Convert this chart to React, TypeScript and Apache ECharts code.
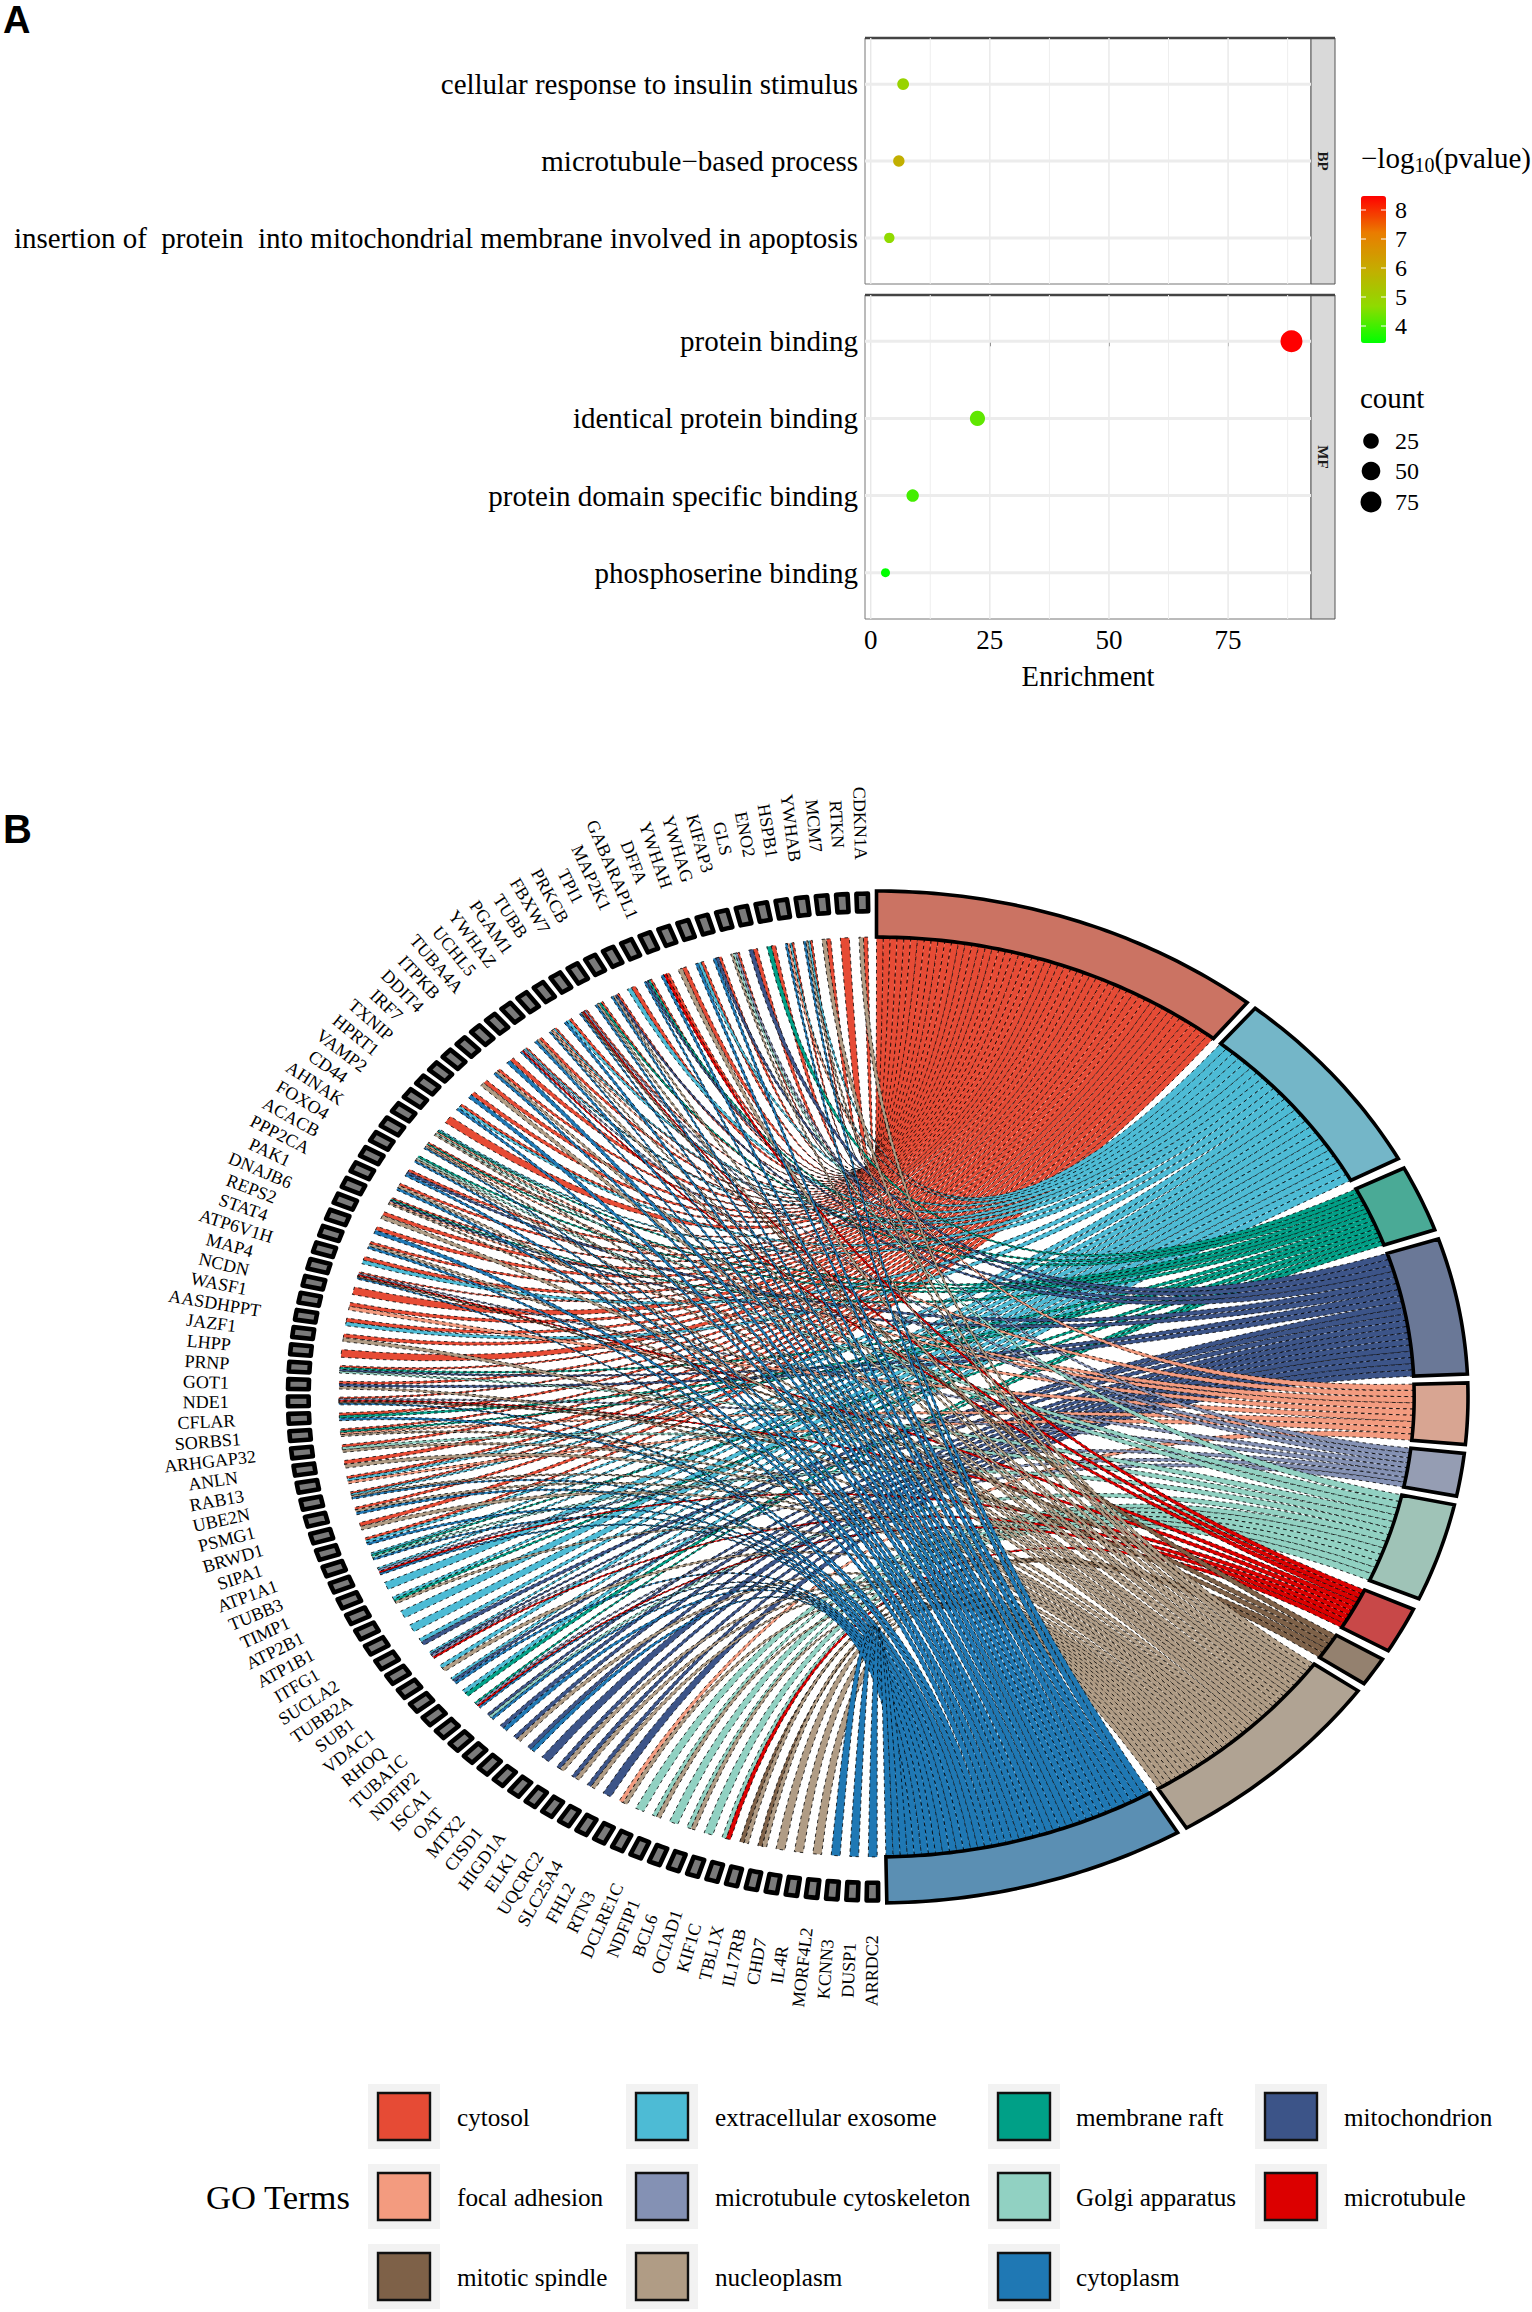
import React, { useEffect, useRef } from "react";
import * as echarts from "echarts";

const SERIF = "Liberation Serif";

// Panel A
const bpCategories = ["cellular response to insulin stimulus", "microtubule\u2212based process", "insertion of  protein  into mitochondrial membrane involved in apoptosis"];
const bpEnrichment = [6.8, 5.9, 3.9];
const bpLogP = [4.9, 5.9, 4.7];
const mfCategories = ["protein binding", "identical protein binding", "protein domain specific binding", "phosphoserine binding"];
const mfEnrichment = [88.3, 22.4, 8.8, 3.1];
const mfLogP = [8.48, 4.25, 4.0, 3.41];
const xTickValues = [0, 25, 50, 75];
const xMinorValues = [12.5, 37.5, 62.5, 87.5];
const colorTicks = [8, 7, 6, 5, 4];
const sizeTicks = [25, 50, 75];

// Panel B
const termNames = ["cytosol", "extracellular exosome", "membrane raft", "mitochondrion", "focal adhesion", "microtubule cytoskeleton", "Golgi apparatus", "microtubule", "mitotic spindle", "nucleoplasm", "cytoplasm"];
const termCodes = ["S", "E", "R", "M", "F", "K", "G", "T", "P", "N", "C"];
const termColors = ["#E64B35", "#4DBBD5", "#00A087", "#3C5488", "#F39B7F", "#8491B4", "#91D1C2", "#DC0000", "#7E6148", "#B09C85", "#1F78B4"];
const termBandColors = ["#CB7363", "#74B6C8", "#4AAA96", "#6A7897", "#D8A592", "#959DB3", "#9FC3B7", "#C84848", "#94816F", "#B0A393", "#5B8FB3"];
const termStart = [0, 39.8, 63.1, 71.8, 88.4, 96.4, 102.3, 114.8, 121.2, 125.5, 149.4];
const termEnd = [38.8, 61.9, 70.7, 87.4, 95.4, 101.3, 113.5, 120.1, 124.5, 148.4, 179];
const legendOrder = [[0, 1, 2, 3], [4, 5, 6, 7], [8, 9, 10]];

// genes listed from the bottom of the circle upwards
const geneNames = ["ARRDC2", "DUSP1", "KCNN3", "MORF4L2", "IL4R", "CHD7", "IL17RB", "TBL1X", "KIF1C", "OCIAD1", "BCL6", "NDFIP1", "DCLRE1C", "RTN3", "FHL2", "SLC25A4", "UQCRC2", "ELK1", "HIGD1A", "CISD1", "MTX2", "OAT", "ISCA1", "NDFIP2", "TUBA1C", "RHOQ", "VDAC1", "SUB1", "TUBB2A", "SUCLA2", "ITFG1", "ATP1B1", "ATP2B1", "TIMP1", "TUBB3", "ATP1A1", "SIPA1", "BRWD1", "PSMG1", "UBE2N", "RAB13", "ANLN", "ARHGAP32", "SORBS1", "CFLAR", "NDE1", "GOT1", "PRNP", "LHPP", "JAZF1", "AASDHPPT", "WASF1", "NCDN", "MAP4", "ATP6V1H", "STAT4", "REPS2", "DNAJB6", "PAK1", "PPP2CA", "ACACB", "FOXO4", "AHNAK", "CD44", "VAMP2", "HPRT1", "TXNIP", "IRF7", "DDIT4", "ITPKB", "TUBA4A", "UCHL5", "YWHAZ", "PGAM1", "TUBB", "FBXW7", "PRKCB", "TPI1", "MAP2K1", "GABARAPL1", "DFFA", "YWHAH", "YWHAG", "KIFAP3", "GLS", "ENO2", "HSPB1", "YWHAB", "MCM7", "RTKN", "CDKN1A"];
const geneTerms = ["C", "C", "C", "N", "N", "N", "PN", "PN", "GT", "G", "GN", "G", "GN", "G", "FN", "M", "MN", "MN", "MN", "M", "MC", "MN", "MC", "MGC", "RKTC", "ER", "EMC", "EN", "EMKT", "EM", "E", "E", "ERN", "E", "EKTC", "ERGC", "SEC", "SN", "SNC", "SENC", "SEF", "SN", "SGN", "SRFN", "SRC", "SKTPC", "SMN", "SRMG", "S", "SN", "SE", "SF", "S", "SKTPC", "SE", "SNC", "SC", "SN", "SFRMN", "SNC", "SMC", "RGNC", "SRFNC", "ERFGN", "S", "SEC", "SC", "SN", "SNC", "SC", "SEKTC", "SNC", "SFENC", "SEC", "STKPC", "SRNC", "SMNC", "SE", "SRMC", "STC", "SN", "SEC", "SMC", "SKGN", "SM", "SR", "SEFC", "SENC", "SN", "S", "SN"];

// geometry of the chord circle inside the page
const CX = 876.5, CY = 1397, RX = 591.5, RY = 506;
const R_INNER = 0.909, R_GENE_IN = 0.96, R_GENE_OUT = 0.995, R_LABEL = 1.134;
const GENE_FIRST = 180.4, GENE_STEP = 1.98, GENE_RIBBON = 0.95, GENE_TILE = 1.12;

const rad = (d: number) => (d * Math.PI) / 180;
const unit = (deg: number, r: number) => [r * Math.sin(rad(deg)), r * Math.cos(rad(deg))];

type Link = { term: number; g0: number; g1: number; t0: number; t1: number };

function buildLinks(): Link[] {
  const perTerm: number[][] = termNames.map(() => []);
  const slots: Record<string, [number, number]> = {};
  geneTerms.forEach((codes, g) => {
    const centre = GENE_FIRST + g * GENE_STEP;
    const n = codes.length;
    const w = GENE_RIBBON / n;
    const ordered = codes.split("").map((c) => termCodes.indexOf(c)).sort((a, b) => a - b);
    ordered.forEach((t, j) => {
      const hi = centre + GENE_RIBBON / 2 - j * w;
      slots[g + ":" + t] = [hi - w, hi];
      perTerm[t].push(g);
    });
  });
  const links: Link[] = [];
  perTerm.forEach((genes, t) => {
    const sorted = [...genes].sort((a, b) => b - a);
    const w = (termEnd[t] - termStart[t]) / sorted.length;
    sorted.forEach((g, k) => {
      const s = slots[g + ":" + t];
      links.push({ term: t, g0: s[0], g1: s[1], t0: termStart[t] + k * w, t1: termStart[t] + (k + 1) * w });
    });
  });
  return links;
}
const links = buildLinks();

const sizeOf = (count: number) => 9 + 13 * Math.sqrt(Math.max(0, count - 3) / 85);

function curve(a: number[], b: number[], steps: number) {
  const out: number[][] = [];
  for (let i = 0; i <= steps; i++) {
    const t = i / steps;
    const p = (1 - t) * (1 - t), q = t * t;
    out.push([p * a[0] + q * b[0], p * a[1] + q * b[1]]);
  }
  return out;
}
function arc(a0: number, a1: number, r: number) {
  const out: number[][] = [];
  const n = Math.max(2, Math.ceil(Math.abs(a1 - a0) / 0.7));
  for (let i = 0; i <= n; i++) out.push(unit(a0 + ((a1 - a0) * i) / n, r));
  return out;
}

function buildOption() {
  const ribbonRender = (_p: any, api: any) => {
    const l = links[_p.dataIndex];
    const e1 = curve(unit(l.t1, R_INNER), unit(l.g0, R_INNER), 26);
    const e2 = curve(unit(l.t0, R_INNER), unit(l.g1, R_INNER), 26).reverse();
    return {
      type: "polygon",
      shape: { points: [...e1, ...e2].map((p) => api.coord(p)) },
      style: { fill: termColors[l.term], stroke: "#000", lineWidth: 0.8, lineDash: [3.5, 3.5] },
    };
  };
  const bandRender = (_p: any, api: any) => {
    const t = _p.dataIndex;
    const pts = [...arc(termStart[t], termEnd[t], 1), ...arc(termEnd[t], termStart[t], R_INNER)];
    return {
      type: "polygon",
      shape: { points: pts.map((p) => api.coord(p)) },
      style: { fill: termBandColors[t], stroke: "#000", lineWidth: 3.6, lineJoin: "miter" },
    };
  };
  const tileRender = (_p: any, api: any) => {
    const c = GENE_FIRST + _p.dataIndex * GENE_STEP;
    const pts = [...arc(c - GENE_TILE / 2, c + GENE_TILE / 2, R_GENE_OUT), ...arc(c + GENE_TILE / 2, c - GENE_TILE / 2, R_GENE_IN)];
    return {
      type: "polygon",
      shape: { points: pts.map((p) => api.coord(p)) },
      style: { fill: "#7a7a7a", stroke: "#000", lineWidth: 4.6, lineJoin: "round" },
    };
  };
  const labelRender = (_p: any, api: any) => {
    const c = GENE_FIRST + _p.dataIndex * GENE_STEP;
    const [x, y] = api.coord(unit(c, R_LABEL));
    const theta = 360 - c;
    return {
      type: "text",
      x,
      y,
      rotation: -rad(90 - theta),
      style: { text: geneNames[_p.dataIndex], fill: "#000", fontFamily: SERIF, fontSize: 18, align: "center", verticalAlign: "middle", textAlign: "center", textVerticalAlign: "middle" },
    };
  };

  const panelLines = (idx: number, n: number) => {
    const maxY = n - 0.4;
    const vr = (color: string, w: number) => (_p: any, api: any) => {
      const v = api.value(0);
      const a = api.coord([v, -0.6]);
      const b = api.coord([v, maxY]);
      return { type: "line", shape: { x1: a[0], y1: a[1], x2: b[0], y2: b[1] }, style: { stroke: color, lineWidth: w } };
    };
    const hr = (_p: any, api: any) => {
      const v = api.value(0);
      const a = api.coord([-1.2, v]);
      const b = api.coord([92.4, v]);
      return { type: "line", shape: { x1: a[0], y1: a[1], x2: b[0], y2: b[1] }, style: { stroke: "#ececec", lineWidth: 3 } };
    };
    return [
      { type: "custom", xAxisIndex: idx, yAxisIndex: idx, z: 1, silent: true, renderItem: vr("#e8e8e8", 1.4), data: xTickValues.map((v) => [v]) },
      { type: "custom", xAxisIndex: idx, yAxisIndex: idx, z: 1, silent: true, renderItem: vr("#eeeeee", 1), data: xMinorValues.map((v) => [v]) },
      { type: "custom", xAxisIndex: idx, yAxisIndex: idx, z: 1, silent: true, renderItem: hr, data: Array.from({ length: n }, (_, i) => [i]) },
    ];
  };

  const yAxis = (idx: number, cats: string[]) => ({
    type: "value", gridIndex: idx, min: -0.6, max: cats.length - 0.4, inverse: true, splitLine: { show: false },
    axisLine: { show: false },
    axisTick: { show: true, length: 5, customValues: cats.map((_, i) => i), lineStyle: { color: "#333", width: 1 } },
    axisLabel: { show: true, customValues: cats.map((_, i) => i), formatter: (v: number) => cats[v] ?? "", fontFamily: SERIF, fontSize: 29, color: "#000", margin: 7 },
  });

  const pointData = (en: number[], lp: number[]) => en.map((x, i) => [x, i, Math.round(x), lp[i]]);

  const graphic: any[] = [];
  const txt = (text: string, x: number, y: number, fontSize: number, extra: any = {}) => ({
    type: "text", x, y, style: { text, fill: "#000", fontFamily: SERIF, fontSize, verticalAlign: "middle", textVerticalAlign: "middle", ...extra },
  });
  graphic.push(txt("A", 3, 20, 38, { fontFamily: "Liberation Sans", fontWeight: "bold" }));
  graphic.push(txt("B", 3, 829, 40, { fontFamily: "Liberation Sans", fontWeight: "bold" }));
  [[38, 246, "BP"], [295, 324, "MF"]].forEach(([top, h, lab]: any) => {
    graphic.push({ type: "rect", shape: { x: 1311, y: top, width: 24, height: h }, style: { fill: "#d9d9d9", stroke: "#555", lineWidth: 1 } });
    graphic.push({ type: "line", shape: { x1: 865, y1: top, x2: 1335, y2: top }, style: { stroke: "#444", lineWidth: 2.4 } });
    graphic.push({ type: "text", x: 1323, y: top + h / 2, rotation: -Math.PI / 2, style: { text: lab, fill: "#1a1a1a", fontFamily: SERIF, fontWeight: "bold", fontSize: 15, align: "center", verticalAlign: "middle", textAlign: "center", textVerticalAlign: "middle" } });
  });
  graphic.push({
    type: "text", x: 1361, y: 158,
    style: {
      text: "{a|\u2212log}{b|10}{a|(pvalue)}", fill: "#000", verticalAlign: "middle", textVerticalAlign: "middle",
      rich: { a: { fontFamily: SERIF, fontSize: 29, fill: "#000" }, b: { fontFamily: SERIF, fontSize: 20, fill: "#000", padding: [14, 0, 0, 0] } },
    },
  });
  const barY = (v: number) => 210 + (8 - v) * 29;
  colorTicks.forEach((v) => {
    graphic.push({ type: "line", z: 100, shape: { x1: 1361, y1: barY(v), x2: 1366, y2: barY(v) }, style: { stroke: "#fff", lineWidth: 1 } });
    graphic.push({ type: "line", z: 100, shape: { x1: 1381, y1: barY(v), x2: 1386, y2: barY(v) }, style: { stroke: "#fff", lineWidth: 1 } });
    graphic.push(txt(String(v), 1395, barY(v), 24));
  });
  graphic.push(txt("count", 1360, 398, 29));
  sizeTicks.forEach((v, i) => {
    const y = [441, 471, 502][i];
    graphic.push({ type: "circle", shape: { cx: 1371, cy: y, r: sizeOf(v) / 2 }, style: { fill: "#000" } });
    graphic.push(txt(String(v), 1395, y, 24));
  });
  // Legend
  const colX = [368, 626, 988, 1255];
  const labX = [457, 715, 1076, 1344];
  const rowY = [2084, 2164, 2244];
  graphic.push(txt("GO Terms", 206, 2197, 34.6));
  legendOrder.forEach((row, r) =>
    row.forEach((t, c) => {
      graphic.push({ type: "rect", shape: { x: colX[c], y: rowY[r], width: 72, height: 65 }, style: { fill: "#f2f2f2" } });
      graphic.push({ type: "rect", shape: { x: colX[c] + 10, y: rowY[r] + 9, width: 52, height: 47 }, style: { fill: termColors[t], stroke: "#111", lineWidth: 2.4 } });
      graphic.push(txt(termNames[t], labX[c], rowY[r] + 33, 25.2));
    })
  );

  return {
    animation: false,
    backgroundColor: "#fff",
    grid: [
      { left: 865, top: 38, width: 446, height: 246, show: true, borderColor: "#777", borderWidth: 1 },
      { left: 865, top: 295, width: 446, height: 324, show: true, borderColor: "#777", borderWidth: 1 },
      { left: CX - RX, top: CY - RY, width: 2 * RX, height: 2 * RY, show: false },
    ],
    xAxis: [
      { type: "value", gridIndex: 0, min: -1.2, max: 92.4, splitLine: { show: false }, axisLine: { show: false }, axisTick: { show: false }, axisLabel: { show: false } },
      {
        type: "value", gridIndex: 1, min: -1.2, max: 92.4, splitLine: { show: false }, axisLine: { show: false },
        axisTick: { show: true, length: 5, customValues: xTickValues, lineStyle: { color: "#333" } },
        axisLabel: { show: true, customValues: xTickValues, fontFamily: SERIF, fontSize: 27, color: "#000", margin: 7 },
        name: "Enrichment", nameLocation: "middle", nameGap: 43, nameTextStyle: { fontFamily: SERIF, fontSize: 28.5, color: "#000" },
      },
      { type: "value", gridIndex: 2, min: -1, max: 1, show: false },
    ],
    yAxis: [yAxis(0, bpCategories), yAxis(1, mfCategories), { type: "value", gridIndex: 2, min: -1, max: 1, show: false }],
    visualMap: {
      type: "continuous", min: 3.41, max: 8.48, dimension: 3, seriesIndex: [6, 7], calculable: false, showLabel: false, text: null as any,
      left: 1361, top: 196, itemWidth: 25, itemHeight: 147, padding: 0, orient: "vertical",
      inRange: { color: ["#00FF00", "#8FDB00", "#C4AD00", "#EA7C00", "#FF0000"] },
    },
    graphic: { elements: graphic },
    series: [
      ...panelLines(0, bpCategories.length),
      ...panelLines(1, mfCategories.length),
      { type: "scatter", xAxisIndex: 0, yAxisIndex: 0, z: 3, itemStyle: { opacity: 1 }, data: pointData(bpEnrichment, bpLogP), symbolSize: (v: number[]) => sizeOf(v[2]), encode: { x: 0, y: 1 } },
      { type: "scatter", xAxisIndex: 1, yAxisIndex: 1, z: 3, itemStyle: { opacity: 1 }, data: pointData(mfEnrichment, mfLogP), symbolSize: (v: number[]) => sizeOf(v[2]), encode: { x: 0, y: 1 } },
      { type: "custom", xAxisIndex: 2, yAxisIndex: 2, silent: true, z: 2, renderItem: ribbonRender, data: links.map((_, i) => [i]) },
      { type: "custom", xAxisIndex: 2, yAxisIndex: 2, silent: true, z: 4, renderItem: bandRender, data: termNames.map((_, i) => [i]) },
      { type: "custom", xAxisIndex: 2, yAxisIndex: 2, silent: true, z: 4, renderItem: tileRender, data: geneNames.map((_, i) => [i]) },
      { type: "custom", xAxisIndex: 2, yAxisIndex: 2, silent: true, z: 5, renderItem: labelRender, data: geneNames.map((_, i) => [i]) },
    ],
  };
}

export default function App() {
  const ref = useRef<HTMLDivElement>(null);
  useEffect(() => {
    if (!ref.current) return;
    const chart = echarts.init(ref.current, undefined, { renderer: "svg" });
    chart.setOption(buildOption() as any);
    return () => chart.dispose();
  }, []);
  return <div ref={ref} style={{ position: "absolute", left: 0, top: 0, width: 1532, height: 2312 }} />;
}
